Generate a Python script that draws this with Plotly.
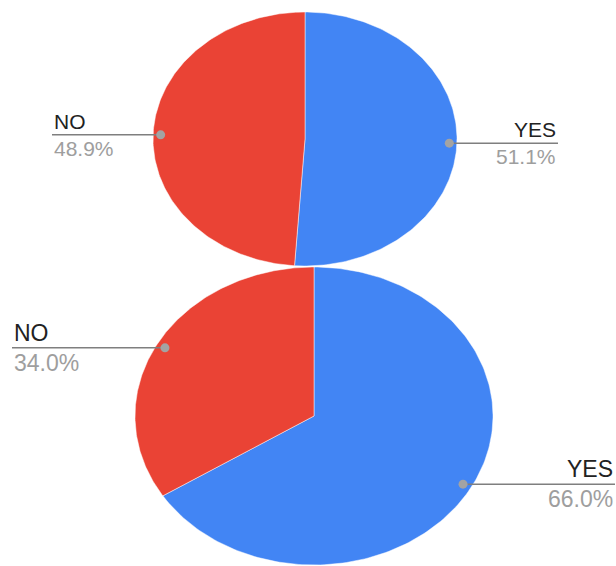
import numpy as np
import plotly.graph_objects as go

# Data
categories = ["YES", "NO"]
top_values = [51.1, 48.9]
bottom_values = [66.0, 34.0]
colors = {"YES": "#4285F4", "NO": "#EA4335"}

W, H = 616, 566

# Layout parameters for the two (horizontally stretched) pies, in pixels
pies = [
    dict(values=top_values, cx=305, cy=139, rx=152, ry=127, fs=21,
         label_x={"YES": 558, "NO": 52}),
    dict(values=bottom_values, cx=314, cy=416, rx=179, ry=149, fs=23,
         label_x={"YES": 615, "NO": 12}),
]

fig = go.Figure()
annotations = []

for p in pies:
    vals = np.array(p["values"], dtype=float)
    frac = vals / vals.sum()
    start = 0.0
    for cat, f in zip(categories, frac):
        a0, a1 = start * 2 * np.pi, (start + f) * 2 * np.pi
        t = np.linspace(a0, a1, 200)
        xs = np.concatenate([[p["cx"]], p["cx"] + p["rx"] * np.sin(t), [p["cx"]]])
        ys = np.concatenate([[p["cy"]], p["cy"] - p["ry"] * np.cos(t), [p["cy"]]])
        fig.add_trace(go.Scatter(x=xs, y=ys, mode="lines", fill="toself",
                                 fillcolor=colors[cat],
                                 line=dict(color="rgba(255,255,255,0.6)", width=0.8),
                                 hoverinfo="skip", showlegend=False))
        # leader anchor at 95% radius along mid angle
        am = (start + f / 2) * 2 * np.pi
        dx = p["cx"] + 0.95 * p["rx"] * np.sin(am)
        dy = p["cy"] - 0.95 * p["ry"] * np.cos(am)
        lx = p["label_x"][cat]
        fig.add_trace(go.Scatter(x=[dx, lx], y=[dy, dy], mode="lines",
                                 line=dict(color="#7f7f7f", width=1.5),
                                 hoverinfo="skip", showlegend=False))
        fig.add_trace(go.Scatter(x=[dx], y=[dy], mode="markers",
                                 marker=dict(color="#a3a3a3", size=9),
                                 hoverinfo="skip", showlegend=False))
        anchor = "left" if lx < dx else "right"
        annotations.append(dict(x=lx, y=dy, xref="x", yref="y", text=cat,
                                showarrow=False, xanchor=anchor, yanchor="bottom",
                                font=dict(size=p["fs"], color="#222222",
                                          family="Liberation Sans, Arial, sans-serif")))
        annotations.append(dict(x=lx, y=dy, xref="x", yref="y",
                                text=f"{vals[categories.index(cat)]:.1f}%",
                                showarrow=False, xanchor=anchor, yanchor="top",
                                font=dict(size=p["fs"], color="#9e9e9e",
                                          family="Liberation Sans, Arial, sans-serif")))
        start += f

fig.update_layout(
    width=W, height=H,
    margin=dict(l=0, r=0, t=0, b=0),
    paper_bgcolor="white", plot_bgcolor="white",
    xaxis=dict(range=[0, W], visible=False, fixedrange=True),
    yaxis=dict(range=[H, 0], visible=False, fixedrange=True),
    annotations=annotations,
    showlegend=False,
)

fig.write_html("out.html", config={"displayModeBar": False},
               post_script="document.body.style.margin='0';document.body.style.overflow='hidden';")
